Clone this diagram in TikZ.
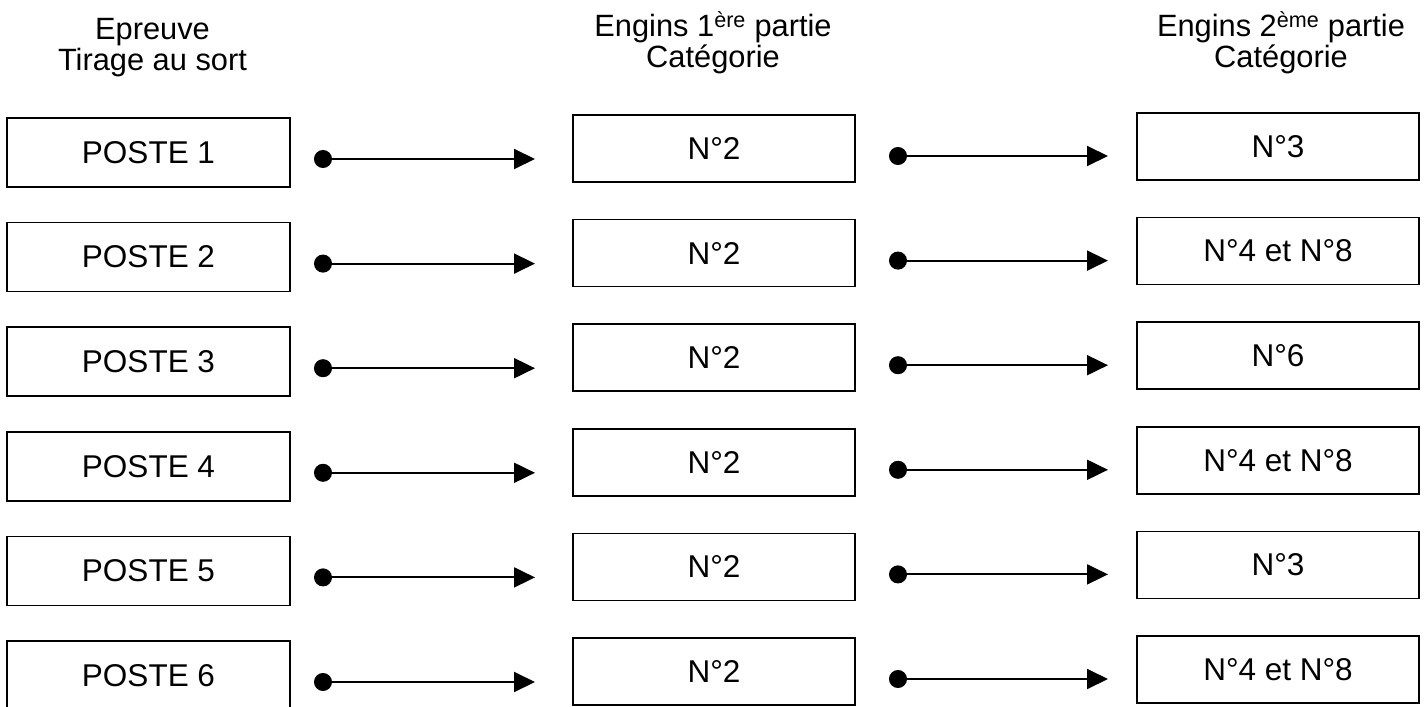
\documentclass[tikz,border=0pt]{standalone}
\usepackage{fontspec}
\setmainfont{Liberation Sans}
\usetikzlibrary{arrows.meta, positioning}

\begin{document}
\begin{tikzpicture}[
    x=1pt, y=-1pt,
    poste/.style={rectangle, draw=black, line width=1.5pt, minimum width=283pt, minimum height=69pt, inner sep=0pt, outer sep=0pt, font=\fontsize{31.5}{30}\selectfont},
    categ/.style={poste, minimum width=282pt, minimum height=67pt},
    header/.style={align=center, inner sep=0pt, anchor=north, font=\fontsize{30.8}{31}\selectfont},
    link/.style={{Circle[length=18pt]}-{Triangle[length=21pt, width=20pt]}, line width=2pt}
]
\useasboundingbox (0,0) rectangle (1428,707);

% column titles
\node[header] (titre1) at (152.5,18) {Epreuve\\Tirage au sort};
\node[header] (titre2) at (713,11) {Engins 1\textsuperscript{ère} partie\\Catégorie};
\node[header] (titre3) at (1281,11) {Engins 2\textsuperscript{ème} partie\\Catégorie};

% one row per poste
\foreach \i/\deux in {1/N°3, 2/N°4 et N°8, 3/N°6, 4/N°4 et N°8, 5/N°3, 6/N°4 et N°8} {
  \node[poste] (p\i) at ({148.5},{152.5+104.6*(\i-1)}) {POSTE \i};
  \node[categ, right=283pt of p\i, yshift=4pt] (a\i) {N°2};
  \node[categ, right=282pt of a\i, yshift=2pt] (b\i) {\deux};
  \draw[link, shorten <=24pt, shorten >=38pt] ([yshift=-6.5pt]p\i.east) -- ([yshift=-6.5pt]p\i.east -| a\i.west);
  \draw[link, shorten <=34pt, shorten >=29pt] ([yshift=-7.5pt]a\i.east) -- ([yshift=-7.5pt]a\i.east -| b\i.west);
}
\end{tikzpicture}
\end{document}
